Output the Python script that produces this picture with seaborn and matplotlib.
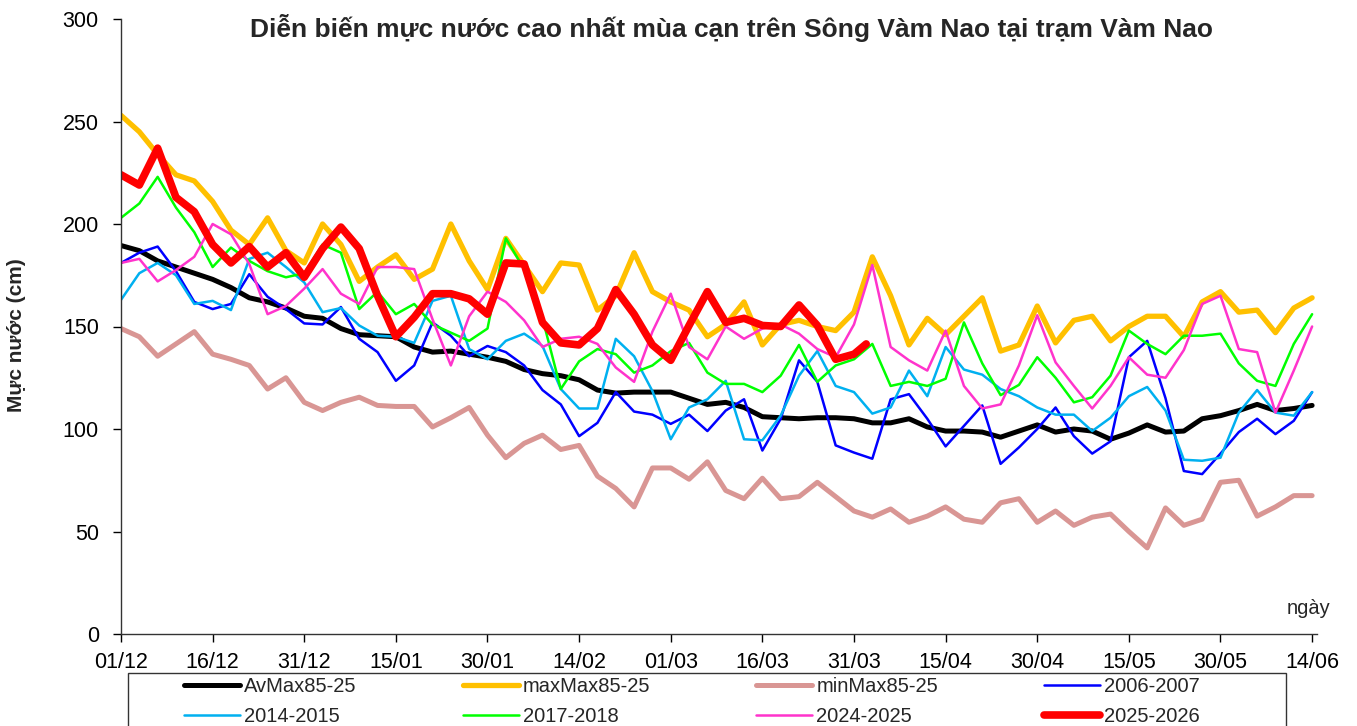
import matplotlib
matplotlib.use("Agg")
import matplotlib.pyplot as plt
from matplotlib.patches import Rectangle
import seaborn as sns
import pandas as pd

# day index counted from 01/12, one reading every 3 days
days = list(range(0, 196, 3))
red_days = list(range(0, 121, 3)) + [122]

tick_days = list(range(0, 196, 15))
tick_labels = ["01/12", "16/12", "31/12", "15/01", "30/01", "14/02", "01/03",
               "16/03", "31/03", "15/04", "30/04", "15/05", "30/05", "14/06"]

av_max = [189.5, 187, 182, 179, 176, 173, 169, 164, 162, 159, 155, 154,
          149, 146, 145.5, 145, 140, 137.5, 138, 136.5, 135, 133, 129, 127,
          126, 124, 119, 117.5, 118, 118, 118, 115, 112, 113, 110.5, 106,
          105.5, 105, 105.5, 105.5, 105, 103, 103, 105, 101, 99, 99, 98.5,
          96, 99, 102, 98.5, 100, 99, 95, 98, 102, 98.5, 99, 105,
          106.5, 109, 112, 109, 110, 111.5]
max_max = [253, 245, 234, 224, 221, 211, 197, 190, 203, 187, 181, 200,
           190, 172, 179, 185, 173, 178, 200, 182, 168, 193, 180, 167,
           181, 180, 158, 165, 186, 167, 162, 158, 145, 151, 162, 141,
           151, 153, 150, 148, 157, 184, 165, 141, 154, 146, 155, 164,
           138, 141, 160, 142, 153, 155, 143, 150, 155, 155, 145, 162,
           167, 157, 158, 147, 159, 164]
min_max = [149, 145, 135.5, 141.5, 147.5, 136.5, 134, 131, 119.5, 125, 113, 109,
           113, 115.5, 111.5, 111, 111, 101, 105.5, 110.5, 97, 86, 93, 97,
           90, 92, 77, 71, 62, 81, 81, 75.5, 84, 70, 66, 76,
           66, 67, 74, 67, 60, 57, 61, 54.5, 57.5, 62, 56, 54.5,
           64, 66, 54.5, 60, 53, 57, 58.5, 50, 42, 61.5, 53, 56,
           74, 75, 57.5, 62, 67.5, 67.5]
s2006 = [181, 186, 189, 177, 162, 158.5, 161, 175.5, 164.5, 158.5, 151.5, 151,
         159.5, 144, 137.5, 123.5, 131, 152, 145.5, 135.5, 140.5, 137.5, 131, 119,
         112, 96.5, 103, 118, 108.5, 107, 102.5, 107, 99, 109, 114.5, 89.5,
         105, 133.5, 123, 92, 88.5, 85.5, 114.5, 117, 105, 91.5, 101.5, 111.5,
         83, 91, 100, 110.5, 96.5, 88, 94, 135, 143, 115, 79.5, 78,
         88, 98.5, 105, 97.5, 104, 118]
s2014 = [163, 176, 181, 175, 161, 162.5, 158, 183, 186, 179, 171.5, 157,
         159, 150.5, 145.5, 145, 142, 162.5, 165, 139, 134, 143, 146.5, 140.5,
         119.5, 110, 110, 144, 135.5, 118.5, 95, 110.5, 114.5, 123.5, 95, 94.5,
         106.5, 126, 138, 121, 118, 107.5, 110.5, 128.5, 116, 140, 129, 126.5,
         119.5, 116, 110.5, 107, 107, 99, 105.5, 116, 120.5, 109, 85, 84.5,
         86, 108, 119, 108, 106.5, 118]
s2017 = [203, 210, 223, 208, 196, 179, 188.5, 182, 177, 174, 176, 190,
         186, 158.5, 167, 156, 161, 151, 147, 143, 149, 193, 178, 154,
         119.5, 133, 139, 136.5, 127.5, 131, 138, 142, 127.5, 122, 122, 118,
         126, 141, 123, 131, 134, 141.5, 121, 123, 121, 124.5, 152, 132,
         116.5, 121.5, 135, 125, 113, 115.5, 126, 148, 141.5, 136.5, 145.5, 145.5,
         146.5, 132, 123.5, 121, 141.5, 156]
s2024 = [181, 183, 172, 177.5, 184, 200, 195, 180.5, 156, 160, 168.5, 178,
         166, 161, 179, 179, 178, 153.5, 131, 155, 167, 162, 153, 140,
         144, 145, 141.5, 130, 123, 147.5, 166, 140, 134, 150, 144, 149,
         151, 146.5, 139, 135, 151, 180, 140, 133.5, 128.5, 148, 121, 110,
         112, 131, 155.5, 132.5, 121, 110, 121, 135, 126.5, 125, 138.5, 161,
         165, 139, 137.5, 108, 128.5, 150]
s2025 = [224, 219, 237, 213, 206, 190, 181, 189, 179, 186, 174, 188,
         198.5, 188, 165, 145, 154.5, 166, 166, 163.5, 156, 181, 180.5, 152,
         142, 141, 149, 168, 156, 141, 133.5, 150.5, 167, 152, 154, 150.5,
         150, 160.5, 150.5, 134, 136.5, 141.5]

sns.set_theme(style="ticks")
plt.rcParams["font.family"] = ["Liberation Sans", "DejaVu Sans"]

W, H = 1357, 726
fig = plt.figure(figsize=(W / 100, H / 100), dpi=100)
ax = fig.add_axes([121 / W, (H - 634) / H, (1317 - 121) / W, (634 - 19) / H])

series = [
    ("AvMax85-25", days, av_max, "#000000", 3.6),
    ("maxMax85-25", days, max_max, "#FFC000", 3.8),
    ("minMax85-25", days, min_max, "#D99694", 3.6),
    ("2006-2007", days, s2006, "#0000FF", 1.8),
    ("2014-2015", days, s2014, "#00B0F0", 1.8),
    ("2017-2018", days, s2017, "#00FF00", 1.8),
    ("2024-2025", days, s2024, "#FF33CC", 1.8),
    ("2025-2026", red_days, s2025, "#FF0000", 5.5),
]

handles = {}
for name, xs, ys, col, lw in series:
    df = pd.DataFrame({"day": xs, "level": ys})
    sns.lineplot(data=df, x="day", y="level", ax=ax, color=col, linewidth=lw,
                 estimator=None, sort=False, solid_joinstyle="round",
                 solid_capstyle="round")
    handles[name] = ax.get_lines()[-1]

ax.set_xlim(0, 195.8)
ax.set_ylim(0, 300)
ax.set_xticks(tick_days)
ax.set_xticklabels(tick_labels)
ax.set_yticks(range(0, 301, 50))
ax.set_xlabel("")
ax.set_ylabel("")
ax.tick_params(axis="both", direction="out", length=6, width=1, labelsize=15.5,
               colors="black")
ax.tick_params(axis="y", pad=10)
ax.tick_params(axis="x", pad=7)
sns.despine(ax=ax)
for sp in ("left", "bottom"):
    ax.spines[sp].set_linewidth(1)
    ax.spines[sp].set_color("#333333")

fig.text(731 / W, 1 - 28 / H,
         "Diễn biến mực nước cao nhất mùa cạn trên Sông Vàm Nao tại trạm Vàm Nao",
         ha="center", va="center", fontsize=19, fontweight="bold")
fig.text(17 / W, 1 - 335 / H, "Mực nước (cm)", rotation=90,
         ha="center", va="center", fontsize=15, fontweight="bold")
fig.text(1309 / W, 1 - 608 / H, "ngày", ha="center", va="center", fontsize=14.5)

# legend: row by row as in the original, matplotlib fills column-wise
order = ["AvMax85-25", "2014-2015", "maxMax85-25", "2017-2018",
         "minMax85-25", "2024-2025", "2006-2007", "2025-2026"]
fig.legend([handles[n] for n in order], order, ncol=4, loc="upper left",
           bbox_to_anchor=(184 / W, 0, (1200 - 184) / W, (H - 677) / H),
           mode="expand", frameon=False, borderpad=0, fontsize=14.5,
           handlelength=2.8, handletextpad=0.2, labelspacing=0.55,
           borderaxespad=0)
fig.add_artist(Rectangle((128 / W, -0.05), (1286 - 128) / W, (H - 673) / H + 0.05,
                         transform=fig.transFigure, fill=False,
                         edgecolor="#333333", linewidth=1))

fig.savefig("out.png", dpi=100)
